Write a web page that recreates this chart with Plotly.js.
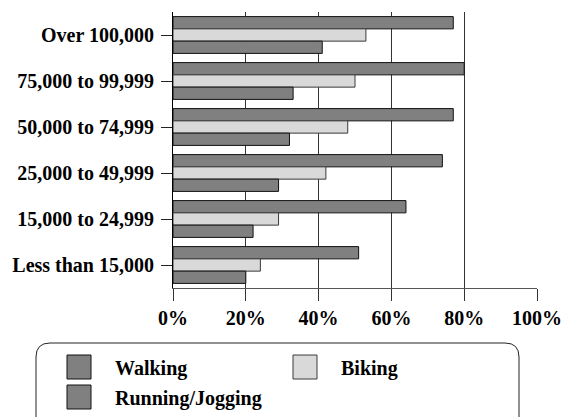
<!DOCTYPE html>
<html>
<head>
<meta charset="utf-8">
<script src="https://cdn.plot.ly/plotly-3.0.1.min.js"></script>
<style>html,body{margin:0;padding:0;background:#fff;}#chart{width:569px;height:417px;}</style>
</head>
<body>
<div id="chart"></div>
<script>
var categories = ["Over 100,000", "75,000 to 99,999", "50,000 to 74,999", "25,000 to 49,999", "15,000 to 24,999", "Less than 15,000"];
var seriesNames = ["Walking", "Biking", "Running/Jogging"];
var walking = [77, 80, 77, 74, 64, 51];
var biking = [53, 50, 48, 42, 29, 24];
var running = [41, 33, 32, 29, 22, 20];
var xTickVals = [0, 20, 40, 60, 80, 100];
var xTickText = ["0%", "20%", "40%", "60%", "80%", "100%"];

var colors = ["#808080", "#d9d9d9", "#808080"];
var lineColors = ["#111111", "#3a3a3a", "#111111"];
var values = [walking, biking, running];

var W = 569, H = 417;
var mL = 173, mR = 32, mT = 12, mB = 129;
var pw = W - mL - mR, ph = H - mT - mB;
function px(x) { return (x - mL) / pw; }
function py(y) { return (H - mB - y) / ph; }

var FONT = "Liberation Serif, Times New Roman, serif";
var FS = 20;

var data = values.map(function (v, i) {
  return {
    type: "bar",
    orientation: "h",
    name: seriesNames[i],
    y: categories,
    x: v,
    marker: { color: colors[i], line: { color: lineColors[i], width: 1 } },
    showlegend: false,
    hoverinfo: "x+y+name"
  };
});

// legend box (rounded) and swatches
var bx0 = 36, bx1 = 519, by0 = 343, by1 = 432, r = 14;
var path = "M" + px(bx0 + r) + "," + py(by0) +
  " L" + px(bx1 - r) + "," + py(by0) +
  " Q" + px(bx1) + "," + py(by0) + " " + px(bx1) + "," + py(by0 + r) +
  " L" + px(bx1) + "," + py(by1 - r) +
  " Q" + px(bx1) + "," + py(by1) + " " + px(bx1 - r) + "," + py(by1) +
  " L" + px(bx0 + r) + "," + py(by1) +
  " Q" + px(bx0) + "," + py(by1) + " " + px(bx0) + "," + py(by1 - r) +
  " L" + px(bx0) + "," + py(by0 + r) +
  " Q" + px(bx0) + "," + py(by0) + " " + px(bx0 + r) + "," + py(by0) + " Z";

var shapes = [{
  type: "path", xref: "paper", yref: "paper", path: path,
  line: { color: "#222", width: 1 }, fillcolor: "rgba(0,0,0,0)", layer: "above"
}];

var legendPos = [
  { sx: 67, sy: 355, tx: 113, ty: 368 },
  { sx: 293, sy: 355, tx: 339, ty: 368 },
  { sx: 67, sy: 385, tx: 113, ty: 398 }
];
var annotations = [];
legendPos.forEach(function (p, i) {
  shapes.push({
    type: "rect", xref: "paper", yref: "paper",
    x0: px(p.sx), x1: px(p.sx + 24), y0: py(p.sy), y1: py(p.sy + 24),
    fillcolor: colors[i], line: { color: lineColors[i], width: 1 }
  });
  annotations.push({
    xref: "paper", yref: "paper", x: px(p.tx), y: py(p.ty),
    xanchor: "left", yanchor: "middle", showarrow: false,
    text: seriesNames[i],
    font: { family: FONT, size: FS, color: "#000", weight: "bold" }
  });
});

var layout = {
  width: W, height: H,
  margin: { l: mL, r: mR, t: mT, b: mB, pad: 0 },
  paper_bgcolor: "#fff", plot_bgcolor: "#fff",
  barmode: "group", bargap: 0.2, bargroupgap: 0,
  showlegend: false,
  font: { family: FONT, size: FS, color: "#000", weight: "bold" },
  xaxis: {
    range: [0, 100], tickvals: xTickVals, ticktext: xTickText,
    showgrid: true, gridcolor: "#333", gridwidth: 1,
    showline: true, linecolor: "#555", linewidth: 1,
    ticks: "outside", ticklen: 12, tickcolor: "#333", tickwidth: 1,
    zeroline: false, fixedrange: true,
    tickfont: { family: FONT, size: FS, color: "#000", weight: "bold" }
  },
  yaxis: {
    type: "category", categoryorder: "array", categoryarray: categories,
    range: [5.5, -0.5],
    showgrid: false, showline: true, linecolor: "#000", linewidth: 1,
    ticks: "outside", ticklen: 11, tickcolor: "#222", tickwidth: 1,
    ticklabelstandoff: 3, zeroline: false, fixedrange: true,
    tickfont: { family: FONT, size: FS, color: "#000", weight: "bold" }
  },
  shapes: shapes,
  annotations: annotations
};

Plotly.newPlot("chart", data, layout, { displayModeBar: false, staticPlot: true });
</script>
</body>
</html>
